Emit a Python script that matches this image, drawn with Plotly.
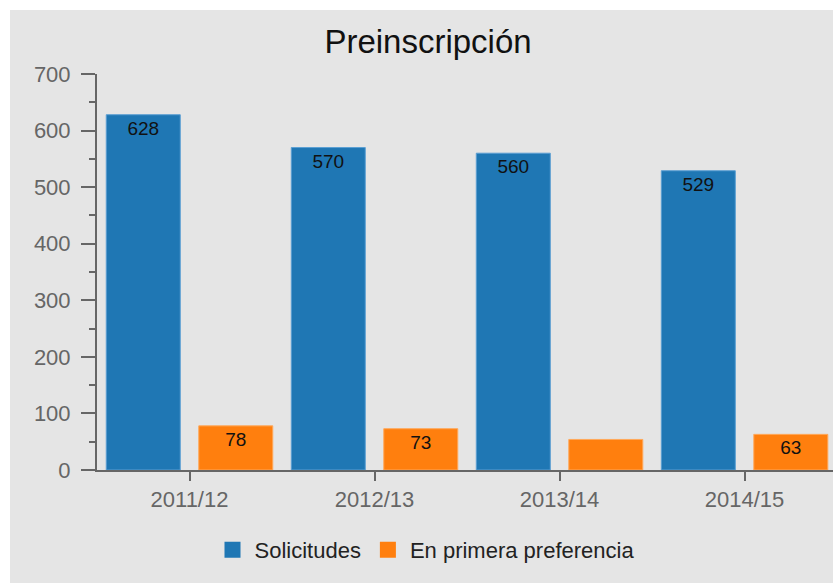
import plotly.graph_objects as go

cursos = ["2011/12", "2012/13", "2013/14", "2014/15"]
solicitudes = [628, 570, 560, 529]
primera_preferencia = [78, 73, 54, 63]
etiquetas_solicitudes = ["628", "570", "560", "529"]
etiquetas_preferencia = ["78", "73", "", "63"]

FONT = "Liberation Sans, Arial, sans-serif"
BG = "#e5e5e5"
AXIS = "#666666"
AZUL, NARANJA = "#1f77b4", "#ff7f0e"

L, T, R, B = 97, 74, 833, 470
W, H = 833, 583

fig = go.Figure()
fig.add_trace(go.Bar(
    x=cursos, y=solicitudes, name="Solicitudes", showlegend=False,
    marker=dict(color=AZUL, line=dict(color="#5b9fd3", width=1)),
    text=etiquetas_solicitudes, textposition="inside", insidetextanchor="end",
    textfont=dict(family=FONT, size=19, color="#111111"),
    textangle=0, cliponaxis=False,
))
fig.add_trace(go.Bar(
    x=cursos, y=primera_preferencia, name="En primera preferencia", showlegend=False,
    marker=dict(color=NARANJA, line=dict(color="#ffa85a", width=1)),
    text=etiquetas_preferencia, textposition="inside", insidetextanchor="end",
    textfont=dict(family=FONT, size=19, color="#111111"),
    textangle=0, cliponaxis=False,
))
# legend entries with larger square swatches
for nombre, color in [("Solicitudes", AZUL), ("En primera preferencia", NARANJA)]:
    fig.add_trace(go.Scatter(
        x=[None], y=[None], mode="markers", name=nombre,
        marker=dict(symbol="square", size=22, color=color),
    ))

pw, ph = R - L, B - T
fig.update_layout(
    width=W, height=H,
    margin=dict(l=L, r=W - R, t=T, b=H - B),
    paper_bgcolor="white", plot_bgcolor=BG,
    font=dict(family=FONT, color="#222222"),
    barmode="group", bargap=0.0, bargroupgap=0.2,
    title=dict(text="Preinscripción", x=428 / W, xref="container", xanchor="center",
               y=1 - 41 / H, yref="container", yanchor="middle",
               font=dict(family=FONT, size=33, color="#111111")),
    legend=dict(orientation="h", xref="container", x=425 / W, xanchor="center",
                yref="container", y=1 - 550 / H, yanchor="middle",
                font=dict(family=FONT, size=22, color="#222222"),
                itemwidth=34, bgcolor="rgba(0,0,0,0)"),
    shapes=[dict(type="rect", xref="paper", yref="paper",
                 x0=(10 - L) / pw, x1=(W + 10 - L) / pw,
                 y0=(B - H - 10) / ph, y1=(B - 10) / ph,
                 fillcolor=BG, line=dict(width=0), layer="below")],
)

fig.update_xaxes(
    type="category", range=[-0.5, 3.478],
    showline=True, linecolor=AXIS, linewidth=2,
    ticks="outside", ticklen=9, tickwidth=2, tickcolor=AXIS,
    tickfont=dict(family=FONT, size=22, color=AXIS),
    showgrid=False, zeroline=False, fixedrange=True,
)
fig.update_yaxes(
    range=[0, 700], dtick=100,
    showline=True, linecolor=AXIS, linewidth=2,
    ticks="outside", ticklen=14, tickwidth=2, tickcolor=AXIS,
    ticklabelstandoff=6,
    minor=dict(dtick=50, ticks="outside", ticklen=6, tickwidth=2, tickcolor=AXIS, showgrid=False),
    tickfont=dict(family=FONT, size=22, color=AXIS),
    showgrid=False, zeroline=False, fixedrange=True,
)

fig.write_html("out.html",
               config={"displayModeBar": False},
               post_script="document.body.style.margin='0';document.body.style.overflow='hidden';")
